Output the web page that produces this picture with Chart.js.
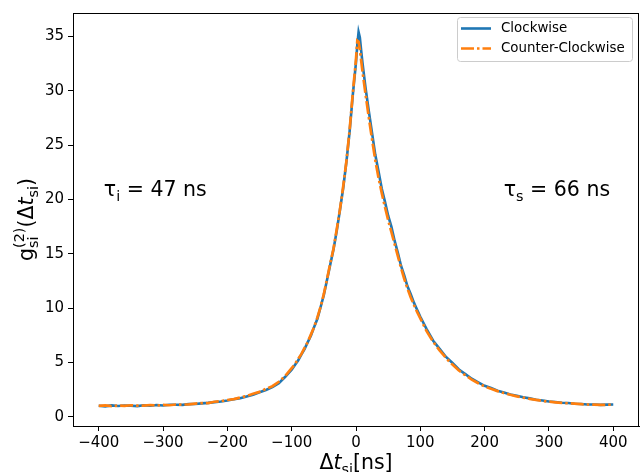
<!DOCTYPE html>
<html>
<head>
<meta charset="utf-8">
<script src="https://cdn.jsdelivr.net/npm/chart.js"></script>
<style>
  body { margin: 0; background: #fff; }
</style>
</head>
<body>
<canvas id="g2Chart" width="641" height="472"></canvas>
<script>
// delay axis (ns) and the two measured g2 curves
const delays = [
  -400, -390, -380, -370, -360, -350, -340, -330, -320, -310,
  -300, -290, -280, -270, -260, -250, -240, -230, -220, -210,
  -200, -190, -180, -170, -160, -150, -140, -130, -120, -110,
  -100, -95, -90, -85, -80, -75, -70, -65, -60, -55,
  -50, -45, -40, -35, -30, -25, -20, -15, -10, -5,
  0, 2, 4, 6, 8,
  10, 15, 20, 25, 30, 35, 40, 45, 50, 55,
  60, 65, 70, 75, 80, 85, 90, 95, 100,
  110, 120, 130, 140, 150, 160, 170, 180, 190, 200,
  210, 220, 230, 240, 250, 260, 270, 280, 290, 300,
  310, 320, 330, 340, 350, 360, 370, 380, 390, 400
];

const clockwise = [
  1.02, 0.96, 1.05, 0.99, 1.04, 1.01, 0.98, 1.06, 1.02, 1.08,
  1.04, 1.10, 1.11, 1.09, 1.16, 1.18, 1.23, 1.28, 1.35, 1.41,
  1.50, 1.61, 1.71, 1.87, 2.02, 2.25, 2.47, 2.72, 3.08, 3.68,
  4.33, 4.76, 5.18, 5.72, 6.23, 6.87, 7.48, 8.27, 9.02, 10.1,
  11.2, 12.6, 14.0, 15.4, 17.1, 19.0, 21.0, 23.4, 26.2, 29.6,
  32.6, 34.2, 35.4, 34.9, 33.7,
  32.6, 30.2, 28.1, 26.1, 24.1, 22.6, 21.0, 19.8, 18.5, 17.5,
  16.2, 15.1, 13.9, 13.0, 12.0, 11.3, 10.5, 9.85, 9.2,
  8.05, 7.0, 6.25, 5.5, 4.95, 4.35, 3.92, 3.5, 3.17, 2.85,
  2.64, 2.40, 2.24, 2.05, 1.93, 1.79, 1.69, 1.57, 1.50, 1.41,
  1.36, 1.29, 1.26, 1.20, 1.18, 1.13, 1.13, 1.09, 1.12, 1.13
];

const counterClockwise = [
  1.00, 1.04, 0.98, 1.03, 1.00, 1.06, 1.02, 1.02, 1.08, 1.03,
  1.09, 1.06, 1.13, 1.12, 1.14, 1.21, 1.26, 1.26, 1.38, 1.44,
  1.54, 1.62, 1.77, 1.91, 2.12, 2.29, 2.57, 2.81, 3.22, 3.76,
  4.47, 4.83, 5.33, 5.76, 6.33, 6.88, 7.58, 8.28, 9.14, 10.12,
  11.3, 12.68, 14.12, 15.46, 17.22, 19.06, 21.14, 23.46, 26.34, 29.76,
  32.9, 34.6, 34.5, 33.8, 32.8,
  31.8, 29.6, 27.5, 25.5, 23.6, 22.0, 20.6, 19.3, 18.1, 17.0,
  15.9, 14.8, 13.7, 12.7, 11.8, 11.0, 10.3, 9.65, 9.05,
  7.85, 6.9, 6.1, 5.4, 4.8, 4.25, 3.82, 3.42, 3.08, 2.8,
  2.57, 2.36, 2.18, 2.02, 1.88, 1.76, 1.65, 1.55, 1.46, 1.39,
  1.33, 1.28, 1.24, 1.20, 1.16, 1.13, 1.11, 1.09, 1.10, 1.12
];

const xTicks = [-400, -300, -200, -100, 0, 100, 200, 300, 400];
const yTicks = [0, 5, 10, 15, 20, 25, 30, 35];

const FONT = '"DejaVu Sans"';

// lay out a little bit of "math text": base runs with optional sub/superscripts
function layoutMath(ctx, parts, size) {
  const items = [];
  let x = 0;
  parts.forEach(p => {
    const f = (p.it ? 'italic ' : '') + size + 'px ' + FONT;
    ctx.font = f;
    items.push({ t: p.t, f: f, x: x, dy: 0 });
    x += ctx.measureText(p.t).width;
    const small = (size * 0.7) + 'px ' + FONT;
    let w = 0;
    if (p.sub) {
      ctx.font = small;
      items.push({ t: p.sub, f: small, x: x, dy: size * 0.22 });
      w = Math.max(w, ctx.measureText(p.sub).width);
    }
    if (p.sup) {
      ctx.font = small;
      items.push({ t: p.sup, f: small, x: x, dy: -size * 0.42 });
      w = Math.max(w, ctx.measureText(p.sup).width);
    }
    x += w;
  });
  return { items: items, width: x };
}

function drawMath(ctx, parts, size, x, y, align, angle) {
  const m = layoutMath(ctx, parts, size);
  let ox = 0;
  if (align === 'center') ox = -m.width / 2;
  if (align === 'right') ox = -m.width;
  ctx.save();
  ctx.translate(x, y);
  if (angle) ctx.rotate(angle);
  ctx.fillStyle = '#000';
  ctx.textAlign = 'left';
  ctx.textBaseline = 'alphabetic';
  m.items.forEach(it => {
    ctx.font = it.f;
    ctx.fillText(it.t, ox + it.x, it.dy);
  });
  ctx.restore();
}

// frame, axis titles, annotations, legend
const extras = {
  id: 'extras',
  afterDraw(chart) {
    const ctx = chart.ctx;
    const a = chart.chartArea;
    const xs = chart.scales.x;
    const ys = chart.scales.y;

    ctx.save();
    ctx.strokeStyle = '#000';
    ctx.lineWidth = 1;
    ctx.strokeRect(Math.round(a.left) + 0.5, Math.round(a.top) + 0.5,
      Math.round(a.right - a.left) - 1, Math.round(a.bottom - a.top));
    ctx.restore();

    drawMath(ctx, [{ t: 'Δ' }, { t: 't', it: true, sub: 'si' }, { t: '[ns]' }],
      20.5, (a.left + a.right) / 2, 469, 'center');
    drawMath(ctx, [{ t: 'g', sub: 'si', sup: '(2)' }, { t: '(Δ' }, { t: 't', it: true, sub: 'si' }, { t: ')' }],
      20.5, 33, (a.top + a.bottom) / 2, 'center', -Math.PI / 2);

    drawMath(ctx, [{ t: 'τ', sub: 'i' }, { t: ' = 47 ns' }],
      20.5, xs.getPixelForValue(-392), ys.getPixelForValue(20.3), 'left');
    drawMath(ctx, [{ t: 'τ', sub: 's' }, { t: ' = 66 ns' }],
      20.5, xs.getPixelForValue(395), ys.getPixelForValue(20.3), 'right');

    // legend box
    ctx.save();
    const bx = 457, by = 17, bw = 175, bh = 44;
    ctx.fillStyle = 'rgba(255,255,255,0.8)';
    ctx.strokeStyle = '#cccccc';
    ctx.lineWidth = 1;
    ctx.beginPath();
    ctx.roundRect(bx + 0.5, by + 0.5, bw, bh, 3);
    ctx.fill();
    ctx.stroke();
    chart.data.datasets.forEach((ds, i) => {
      const ly = 28.5 + i * 20;
      ctx.strokeStyle = ds.borderColor;
      ctx.lineWidth = ds.borderWidth;
      ctx.setLineDash(ds.borderDash || []);
      ctx.beginPath();
      ctx.moveTo(461, ly);
      ctx.lineTo(491, ly);
      ctx.stroke();
      ctx.setLineDash([]);
      ctx.fillStyle = '#000';
      ctx.font = '13.4px ' + FONT;
      ctx.textBaseline = 'middle';
      ctx.fillText(ds.label, 501, ly);
    });
    ctx.restore();
  }
};

const axisStyle = {
  grid: { drawOnChartArea: false, drawTicks: true, tickLength: 5, tickColor: '#000', color: '#000' },
  border: { display: true, color: '#000', width: 1 },
  ticks: {
    color: '#000',
    font: { family: 'DejaVu Sans', size: 15 },
    autoSkip: false,
    maxRotation: 0,
    callback: v => String(v).replace('-', '\u2212')
  }
};

new Chart(document.getElementById('g2Chart'), {
  type: 'line',
  data: {
    datasets: [{
      label: 'Clockwise',
      data: delays.map((d, i) => ({ x: d, y: clockwise[i] })),
      borderColor: '#1f77b4',
      borderWidth: 2.6,
      pointRadius: 0,
      tension: 0,
      order: 2   // drawn underneath
    }, {
      label: 'Counter-Clockwise',
      data: delays.map((d, i) => ({ x: d, y: counterClockwise[i] })),
      borderColor: '#ff7f0e',
      borderWidth: 2.7,
      borderDash: [13, 3, 2.5, 3],
      pointRadius: 0,
      tension: 0,
      order: 1   // on top, like the matplotlib plot
    }]
  },
  options: {
    responsive: false,
    devicePixelRatio: 1,
    animation: false,
    layout: { padding: { top: 10, right: 2, left: 0, bottom: 0 } },
    plugins: { legend: { display: false }, tooltip: { enabled: false } },
    scales: {
      x: {
        type: 'linear',
        min: -440,
        max: 440,
        grid: axisStyle.grid,
        border: axisStyle.border,
        ticks: Object.assign({}, axisStyle.ticks, { padding: 3 }),
        afterBuildTicks: s => { s.ticks = xTicks.map(v => ({ value: v })); },
        afterFit: s => { s.height = 46; }
      },
      y: {
        type: 'linear',
        min: -0.85,
        max: 37.15,
        grid: axisStyle.grid,
        border: axisStyle.border,
        ticks: Object.assign({}, axisStyle.ticks, { padding: 4 }),
        afterBuildTicks: s => { s.ticks = yTicks.map(v => ({ value: v })); },
        afterFit: s => { s.width = 73; }
      }
    }
  },
  plugins: [extras]
});
</script>
</body>
</html>
